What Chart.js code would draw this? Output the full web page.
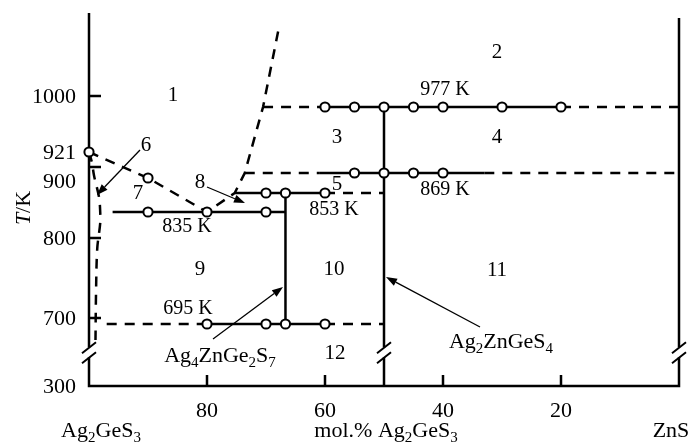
<!DOCTYPE html>
<html><head><meta charset="utf-8">
<script src="https://cdn.jsdelivr.net/npm/chart.js@4.4.1/dist/chart.umd.min.js"></script>
<style>html,body{margin:0;padding:0;background:#fff}#wrap{width:692px;height:445px;position:relative}</style>
</head><body><div id="wrap"><canvas id="c"></canvas></div>
<script>
// ---------------- data ----------------
// x: mol.% Ag2GeS3 (100 = Ag2GeS3, 0 = ZnS); y: temperature, K
const compTicks = [80, 60, 40, 20];
const tempTicks = [1000, 900, 800, 700];
const tempTickLabels = [1000, 921, 900, 800, 700, 300];

// invariant isotherms (K)
const iso977 = 977, iso869 = 869, iso853 = 853, iso835 = 835, iso695 = 695;
// experimental points (open circles) on each isotherm
const pts977 = [60, 55, 50, 45, 40, 30, 20];
const pts869 = [55, 50, 45, 40];
const pts853 = [70, 66.7, 60];
const pts835 = [90, 80, 70];
const pts695 = [80, 70, 66.7, 60];
// solid / dashed extents of the isotherms (pairs of compositions)
const solid977 = [60, 20];   const dash977 = [70.5, 60, 20, 0];
const solid869 = [61, 33];   const dash869 = [73.6, 61, 33, 0];
const solid853 = [75.3, 60]; const dash853 = [60, 50];
const solid835 = [96, 66.7];
const solid695 = [80, 60];   const dash695 = [97, 80, 60, 50];

// liquidus (dashed)
const liqX = [100, 90, 80, 75.3, 73.6, 70.5, 67.8];
const liqT = [921, 865, 835, 853, 869, 977, 1141];
// solidus of the Ag2GeS3-based solid solution (dashed)
const solX = [100, 99.5, 99.15, 98.3, 98.1, 98.1, 98.6, 98.8, 98.9];
const solT = [921, 906, 867, 849, 835, 820, 787, 735, 593];
// liquidus experimental points
const liqPtX = [100, 90];
const liqPtT = [921, 865];
// compounds (vertical lines): Ag4ZnGe2S7, Ag2ZnGeS4
const cmpX = [66.7, 50];
const cmpTlow = [695, 300];
const cmpThigh = [853, 977];

// schematic (non-linear) temperature axis of the original figure
const yAnchorT = [300, 695, 700, 800, 835, 853, 869, 900, 921, 977, 1000, 1170];
const yAnchorF = [0, .1662, .1823, .3968, .4665, .5174, .5710, .5871, .6273, .7480, .7775, 1];
const axisBreakT = 515;

// ---------------- schematic scale ----------------
function interp(v, xs, ys) {
  let i = 0;
  if (v <= xs[0]) i = 0;
  else if (v >= xs[xs.length - 1]) i = xs.length - 2;
  else { while (i < xs.length - 2 && v > xs[i + 1]) i++; }
  const t = (v - xs[i]) / (xs[i + 1] - xs[i]);
  return ys[i] + t * (ys[i + 1] - ys[i]);
}
class SchematicScale extends Chart.LinearScale {
  getPixelForValue(value) {
    const f = interp(value, yAnchorT, yAnchorF);
    return this.bottom - f * (this.bottom - this.top);
  }
  getValueForPixel(pixel) {
    const f = (this.bottom - pixel) / (this.bottom - this.top);
    return interp(f, yAnchorF, yAnchorT);
  }
}
SchematicScale.id = 'schematic';
SchematicScale.defaults = Chart.LinearScale.defaults;
Chart.register(SchematicScale);

// ---------------- datasets ----------------
const LW = 2.5, DASH = [10, 8];
const datasets = [];
function line(pts, dashed, tension) {
  datasets.push({ data: pts, borderColor: '#000', borderWidth: LW, borderDash: dashed ? DASH : [],
    pointRadius: 0, pointHoverRadius: 0, tension: tension || 0, fill: false, clip: false, order: 2 });
}
function hseg(pairs, T, dashed) {
  for (let i = 0; i < pairs.length; i += 2) line([{x: pairs[i], y: T}, {x: pairs[i + 1], y: T}], dashed);
}
function circles(xs, Ts) {
  datasets.push({ data: xs.map((x, i) => ({x, y: Array.isArray(Ts) ? Ts[i] : Ts})), showLine: false,
    pointRadius: 4.6, pointBorderWidth: 2, pointBackgroundColor: '#fff', pointBorderColor: '#000',
    pointHoverRadius: 4.6, clip: false, order: 0 });
}
hseg(solid977, iso977, false); hseg(dash977, iso977, true);
hseg(solid869, iso869, false); hseg(dash869, iso869, true);
hseg(solid853, iso853, false); hseg(dash853, iso853, true);
hseg(solid835, iso835, false);
hseg(solid695, iso695, false); hseg(dash695, iso695, true);
line(liqX.map((x, i) => ({x, y: liqT[i]})), true);
line(solX.map((x, i) => ({x, y: solT[i]})), true, 0.35);
cmpX.forEach((x, i) => line([{x, y: cmpTlow[i]}, {x, y: cmpThigh[i]}], false));
circles(pts977, iso977); circles(pts869, iso869); circles(pts853, iso853);
circles(pts835, iso835); circles(pts695, iso695); circles(liqPtX, liqPtT);

// ---------------- drawing helpers ----------------
const FONT = '"Liberation Serif", "Times New Roman", serif';
function parts(str) {
  const out = []; let i = 0;
  while (i < str.length) {
    if (str[i] === '_') { out.push({t: str[i + 1], sub: true}); i += 2; }
    else { let j = i; while (j < str.length && str[j] !== '_') j++; out.push({t: str.slice(i, j), sub: false}); i = j; }
  }
  return out;
}
function rich(ctx, str, x, y, align, size) {
  const ps = parts(str), sub = Math.round(size * 0.68);
  let w = 0;
  ps.forEach(p => { ctx.font = (p.sub ? sub : size) + 'px ' + FONT; p.w = ctx.measureText(p.t).width; w += p.w; });
  let cx = align === 'center' ? x - w / 2 : align === 'right' ? x - w : x;
  ctx.textAlign = 'left'; ctx.textBaseline = 'alphabetic';
  ps.forEach(p => { ctx.font = (p.sub ? sub : size) + 'px ' + FONT; ctx.fillText(p.t, cx, y + (p.sub ? size * 0.22 : 0)); cx += p.w; });
}
function arrow(ctx, x1, y1, x2, y2) {
  const a = Math.atan2(y2 - y1, x2 - x1), L = 11, W = 4;
  const bx = x2 - L * Math.cos(a), by = y2 - L * Math.sin(a);
  ctx.lineWidth = 1.3; ctx.setLineDash([]);
  ctx.beginPath(); ctx.moveTo(x1, y1); ctx.lineTo(bx, by); ctx.stroke();
  ctx.beginPath(); ctx.moveTo(x2, y2);
  ctx.lineTo(bx - W * Math.sin(a), by + W * Math.cos(a));
  ctx.lineTo(bx + W * Math.sin(a), by - W * Math.cos(a));
  ctx.closePath(); ctx.fill();
}

const schematicPlugin = {
  id: 'schematic',
  beforeDatasetsDraw(chart) {
    const {ctx, chartArea: a, scales: {x, y}} = chart;
    ctx.save(); ctx.strokeStyle = '#000'; ctx.lineWidth = LW; ctx.setLineDash([]); ctx.lineCap = 'butt';
    const xl = x.getPixelForValue(100), xr = x.getPixelForValue(0), yb = y.getPixelForValue(300);
    ctx.beginPath();
    ctx.moveTo(xl, a.top); ctx.lineTo(xl, yb + LW / 2);
    ctx.moveTo(xl, yb); ctx.lineTo(xr, yb);
    ctx.moveTo(xr, yb + LW / 2); ctx.lineTo(xr, a.top + 5);
    tempTicks.forEach(t => { const p = y.getPixelForValue(t); ctx.moveTo(xl, p); ctx.lineTo(xl + 12, p); });
    compTicks.forEach(c => { const p = x.getPixelForValue(c); ctx.moveTo(p, yb); ctx.lineTo(p, yb - 11); });
    ctx.stroke();
    ctx.restore();
  },
  afterDatasetsDraw(chart) {
    const {ctx, scales: {x, y}} = chart;
    ctx.save(); ctx.fillStyle = '#000'; ctx.strokeStyle = '#000';
    // axis breaks
    const yBr = y.getPixelForValue(axisBreakT);
    [100, 50, 0].forEach(c => {
      const px = x.getPixelForValue(c);
      ctx.fillStyle = '#fff'; ctx.fillRect(px - 4, yBr - 5, 8, 10); ctx.fillStyle = '#000';
      ctx.lineWidth = 2; ctx.setLineDash([]);
      ctx.beginPath();
      ctx.moveTo(px - 7, yBr + 1); ctx.lineTo(px + 7, yBr - 10);
      ctx.moveTo(px - 7, yBr + 11); ctx.lineTo(px + 7, yBr);
      ctx.stroke();
    });
    // tick labels
    ctx.font = '22px ' + FONT; ctx.textAlign = 'right'; ctx.textBaseline = 'alphabetic';
    const xl = x.getPixelForValue(100);
    tempTickLabels.forEach(t => {
      const p = y.getPixelForValue(t) + 7 + (t === 900 ? 14 : 0);
      ctx.fillText(String(t), xl - 13, p);
    });
    ctx.textAlign = 'center';
    const yb = y.getPixelForValue(300);
    compTicks.forEach(c => ctx.fillText(String(c), x.getPixelForValue(c), yb + 31));
    // axis titles
    rich(ctx, 'Ag_2GeS_3', 101, 437, 'center', 22);
    rich(ctx, 'mol.% Ag_2GeS_3', 386, 437, 'center', 22);
    rich(ctx, 'ZnS', 671, 437, 'center', 22);
    ctx.save(); ctx.translate(30, 208); ctx.rotate(-Math.PI / 2);
    ctx.font = 'italic 22px ' + FONT; const wT = ctx.measureText('T').width;
    ctx.font = '22px ' + FONT; const wK = ctx.measureText('/K').width;
    ctx.textAlign = 'left'; ctx.textBaseline = 'alphabetic';
    ctx.font = 'italic 22px ' + FONT; ctx.fillText('T', -(wT + wK) / 2, 0);
    ctx.font = '22px ' + FONT; ctx.fillText('/K', -(wT + wK) / 2 + wT, 0);
    ctx.restore();
    // phase-field numbers
    ctx.font = '21px ' + FONT; ctx.textAlign = 'center'; ctx.textBaseline = 'middle';
    [['1', 173, 95], ['2', 497, 52], ['3', 337, 137], ['4', 497, 137], ['5', 337, 184], ['6', 146, 145],
     ['7', 138, 193], ['8', 200, 182], ['9', 200, 269], ['10', 334, 269], ['11', 497, 270], ['12', 335, 353]]
      .forEach(([s, px, py]) => ctx.fillText(s, px, py));
    // isotherm labels
    ctx.font = '20px ' + FONT;
    [['977 K', 445, 90], ['869 K', 445, 190], ['853 K', 334, 210], ['835 K', 187, 227], ['695 K', 188, 309]]
      .forEach(([s, px, py]) => ctx.fillText(s, px, py));
    // compound labels
    rich(ctx, 'Ag_4ZnGe_2S_7', 220, 362, 'center', 22);
    rich(ctx, 'Ag_2ZnGeS_4', 501, 348, 'center', 22);
    // arrows
    arrow(ctx, 140, 150, 97, 195);
    arrow(ctx, 207, 187, 245, 203);
    arrow(ctx, 213, 339, 283, 287);
    arrow(ctx, 480, 327, 386, 277);
    ctx.restore();
  }
};

new Chart(document.getElementById('c'), {
  type: 'line',
  data: { datasets },
  options: {
    responsive: true, maintainAspectRatio: false, animation: false,
    layout: { padding: { left: 89, right: 13, top: 13, bottom: 59 } },
    plugins: { legend: { display: false }, tooltip: { enabled: false } },
    events: [],
    scales: {
      x: { type: 'linear', min: 0, max: 100, reverse: true, display: false },
      y: { type: 'schematic', min: 300, max: 1170, display: false }
    }
  },
  plugins: [schematicPlugin]
});
</script></body></html>
